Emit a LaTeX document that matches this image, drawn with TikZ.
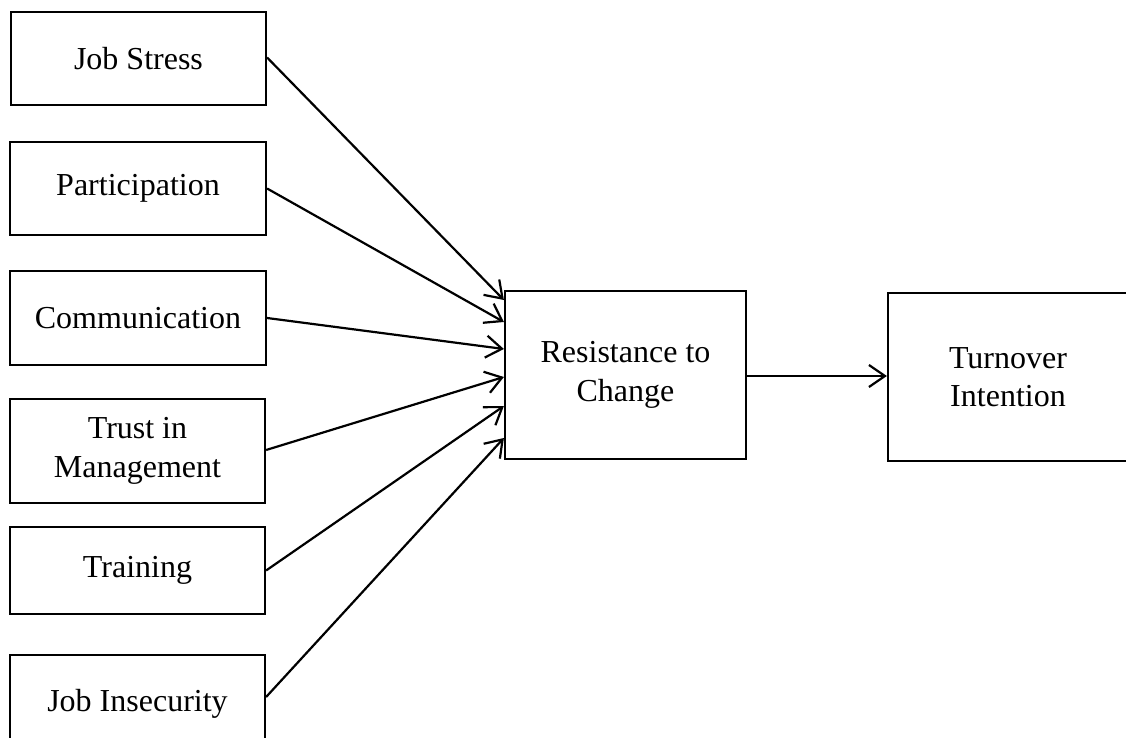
\documentclass[tikz,border=0pt]{standalone}
\usepackage{fontspec}
\setmainfont{Liberation Serif}
\usetikzlibrary{arrows.meta,calc}
\begin{document}
\begin{tikzpicture}[x=1pt,y=-1pt,
  box/.style={draw,line width=2.2pt,rectangle,inner sep=0pt,align=center,
    font=\fontsize{32}{38.4}\selectfont},
  conn/.style={line width=2.2pt,-{Straight Barb[length=16pt,width=22pt,line width=2.2pt]}}]
\useasboundingbox (0,0) rectangle (1126,738);
\clip (0,0) rectangle (1126,738);
\node[box,minimum width=255pt,minimum height=93pt] (js) at (138.5,58.5) {Job Stress};
\node[box,minimum width=256pt,minimum height=93pt] (pa) at (138,188.5) {\raisebox{-3pt}{Participation}};
\node[box,minimum width=256pt,minimum height=94pt] (co) at (138,318) {Communication};
\node[box,minimum width=255pt,minimum height=104pt] (tm) at (137.5,451) {Trust in\\Management};
\node[box,minimum width=255pt,minimum height=87pt] (tn) at (137.5,570.5) {Training};
\node[box,minimum width=255pt,minimum height=98pt] (ji) at (137.5,704) {Job Insecurity};
\node[box,minimum width=241pt,minimum height=168pt] (rc) at (625.5,375) {Resistance to\\Change};
\node[box,minimum width=240pt,minimum height=168pt] (ti) at (1008,377) {Turnover\\Intention};
\draw[conn] ($(js.east)+(0,-1)$) -- ($(rc.west)+(0,-75)$);
\draw[conn] (pa.east) -- ($(rc.west)+(0,-53)$);
\draw[conn] (co.east) -- ($(rc.west)+(0,-26)$);
\draw[conn] ($(tm.east)+(0,-1)$) -- ($(rc.west)+(0,2)$);
\draw[conn] (tn.east) -- ($(rc.west)+(0,31)$);
\draw[conn] ($(ji.east)+(0,-7)$) -- ($(rc.west)+(0,63)$);
\draw[conn] ($(rc.east)+(0,1)$) -- ($(rc.east -| ti.west)+(0,1)$);
\end{tikzpicture}
\end{document}
